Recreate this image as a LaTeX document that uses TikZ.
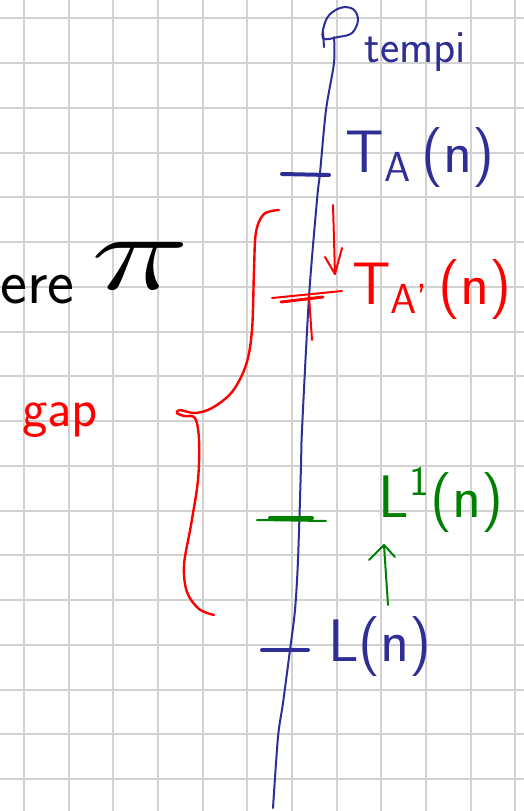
\documentclass[tikz,border=0pt]{standalone}
\usepackage{fix-cm}
\usetikzlibrary{calc}
\definecolor{gridc}{RGB}{210,210,210}
\definecolor{pblue}{RGB}{46,46,150}
\definecolor{pred}{RGB}{255,0,0}
\definecolor{pgreen}{RGB}{0,128,0}
\begin{document}
\begin{tikzpicture}[x=0.5pt,y=-0.5pt,line cap=round,line join=round,
  gridline/.style={gridc,line width=1pt},
  pen/.style={line width=1pt},
  tickmark/.style={line width=2pt},
  lab/.style={inner sep=0pt,font=\sffamily\fontsize{30}{32}\selectfont},
  small/.style={inner sep=0pt,font=\sffamily\fontsize{23}{25}\selectfont}]
\useasboundingbox (0,0) rectangle (524,811);
\fill[white] (0,0) rectangle (524,811);
% grid
\foreach \i in {0,...,11} \draw[gridline] ({24+44.68*\i},0) -- ({24+44.68*\i},811);
\foreach \j in {0,...,17} \draw[gridline] (0,{18.3+44.75*\j}) -- (524,{18.3+44.75*\j});
% time axis
\draw[pblue,pen] plot[smooth,tension=0.5] coordinates {(273,808) (278,737) (283,703) (290,650) (295,610) (298,560) (301,466) (302,430) (309,297) (317,200) (320,173) (326,110) (334,63) (334,37)};
\draw[pblue,pen] plot[smooth cycle,tension=0.6] coordinates {(323,38) (327,18) (340,8) (353,9) (358,20) (352,33) (338,37)};
\draw[pblue,pen] (323,32) -- (324,47);
\node[small,text=pblue,anchor=base west] (tempi) at (364,62) {tempi};
% T_A(n)
\draw[pblue,tickmark] (282,174) -- (329,175);
\node[lab,text=pblue] (ta) at (420,158) {T\textsubscript{A}\,(n)};
% T_A'(n)
\coordinate (ra1) at (333,205);
\coordinate (ra2) at (335,274);
\draw[pred,pen] (ra1) -- (ra2);
\draw[pred,pen] (325,257) -- (ra2) -- (342,248);
\draw[pred,pen] (272,298) -- (342,291);
\draw[pred,line width=1.5pt] (281,302) -- (323,297);
\draw[pred,pen] (309,296) -- (312,340);
\node[lab,text=pred] (tap) at (432,290) {T\textsubscript{A'}\,(n)};
% brace
\draw[pred,line width=1.2pt] plot[smooth,tension=0.55] coordinates {(279,210) (264,214) (256,232) (254,270) (252,330) (246,365) (232,392) (212,408) (195,413) (180,410) (177,413) (184,416) (195,418) (199,440) (198,480) (191,525) (184,565) (187,592) (199,609) (214,615)};
\node[inner sep=0pt,text=pred,font=\sffamily\fontsize{27}{29}\selectfont] (gap) at (60,420) {gap};
% black text
\node[inner sep=0pt,anchor=base west,font=\sffamily\fontsize{32}{34}\selectfont] (ere) at (0,303) {ere};
\node[inner sep=0pt,font=\fontsize{52}{54}\selectfont] (pi) at (141,266) {\scalebox{1.6}[1.05]{$\pi$}};
% L'(n)
\draw[pgreen,pen] (257,520) -- (326,521);
\draw[pgreen,tickmark] (270,518) -- (312,518);
\node[lab,text=pgreen] (lp) at (441,500) {L\textsuperscript{1}(n)};
\coordinate (ga1) at (388,605);
\coordinate (ga2) at (384,545);
\draw[pgreen,pen] (ga1) -- (ga2);
\draw[pgreen,pen] (369,560) -- (ga2) -- (395,557);
% L(n)
\draw[pblue,tickmark] (262,650) -- (308,650);
\node[lab,text=pblue] (l) at (380,647) {L(n)};
\end{tikzpicture}
\end{document}
